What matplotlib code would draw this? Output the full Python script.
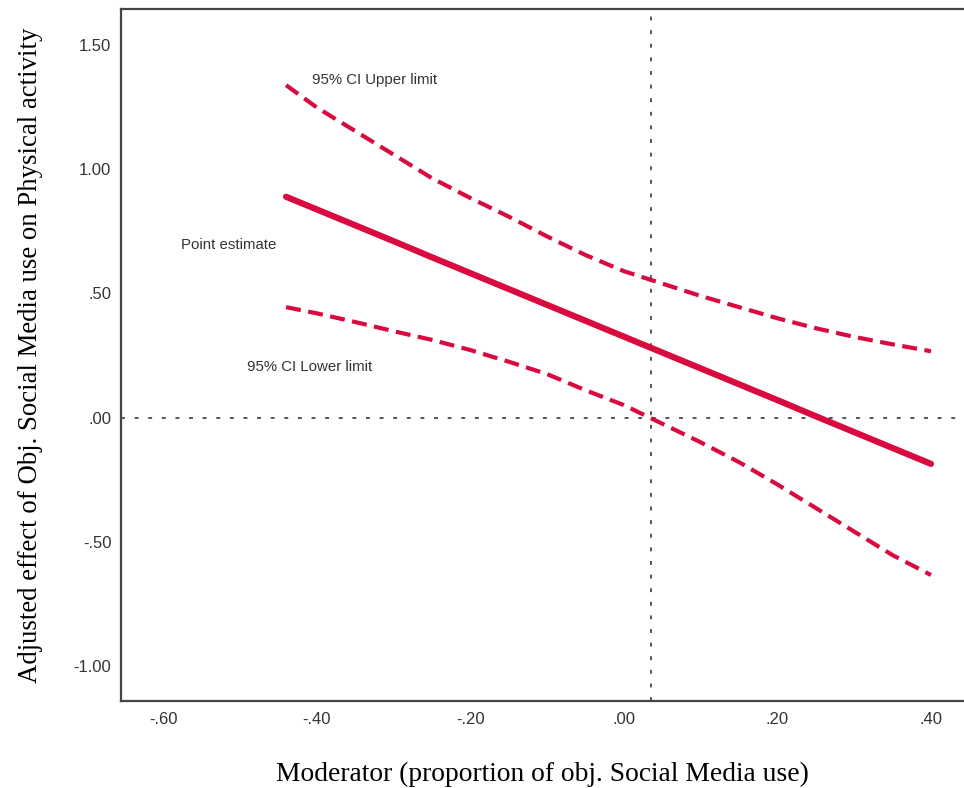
import numpy as np
import matplotlib
matplotlib.use('Agg')
import matplotlib.pyplot as plt
from matplotlib.ticker import FuncFormatter

# Moderator values and conditional effect with 95% CI
moderator = [-0.44, -0.40, -0.35, -0.30, -0.25, -0.20, -0.15, -0.10, -0.05,
             0.00, 0.05, 0.10, 0.15, 0.20, 0.25, 0.30, 0.35, 0.40]
effect = [0.89, 0.839, 0.775, 0.711, 0.646, 0.582, 0.518, 0.454, 0.390,
          0.326, 0.262, 0.198, 0.134, 0.070, 0.005, -0.059, -0.123, -0.187]
ci_upper = [1.34, 1.25, 1.155, 1.06, 0.965, 0.885, 0.81, 0.73, 0.655,
            0.59, 0.54, 0.49, 0.445, 0.40, 0.36, 0.325, 0.295, 0.267]
ci_lower = [0.445, 0.42, 0.385, 0.348, 0.313, 0.272, 0.225, 0.175, 0.11,
            0.05, -0.025, -0.10, -0.18, -0.27, -0.365, -0.46, -0.555, -0.635]
moderator_mean = 0.035

xticks = [-0.60, -0.40, -0.20, 0.00, 0.20, 0.40]
yticks = [-1.00, -0.50, 0.00, 0.50, 1.00, 1.50]

red = '#D80A40'
grey = '#555555'

fig = plt.figure(figsize=(9.64, 7.88), dpi=100)
ax = fig.add_axes([121/964, 87/788, (964-121)/964, (701-9)/788])

ax.axhline(0, color=grey, lw=1.4, ls=(0, (2, 5)), zorder=1)
ax.axvline(moderator_mean, color=grey, lw=1.4, ls=(0, (2, 5)), zorder=1)

ax.plot(moderator, ci_upper, color=red, lw=3, ls=(0, (3.6, 1.8)), zorder=3)
ax.plot(moderator, ci_lower, color=red, lw=3, ls=(0, (3.6, 1.8)), zorder=3)
ax.plot(moderator, effect, color=red, lw=4.5, solid_capstyle='round', zorder=4)

txt = dict(fontsize=10.8, color='#333333', family='Liberation Sans', va='center')
ax.text(-0.406, 1.361, '95% CI Upper limit', **txt)
ax.text(-0.577, 0.695, 'Point estimate', **txt)
ax.text(-0.491, 0.204, '95% CI Lower limit', **txt)

ax.set_xlim(-0.655, 0.443)
ax.set_ylim(-1.143, 1.647)
ax.set_xticks(xticks)
ax.set_yticks(yticks)

def spss_fmt(v, pos):
    s = f'{v:.2f}'
    return s.replace('0.', '.') if abs(v) < 1 else s

ax.xaxis.set_major_formatter(FuncFormatter(spss_fmt))
ax.yaxis.set_major_formatter(FuncFormatter(spss_fmt))
ax.tick_params(length=0, labelsize=12, labelcolor='#333333')
ax.tick_params(axis='x', pad=8)
ax.tick_params(axis='y', pad=7)
for lab in ax.get_xticklabels() + ax.get_yticklabels():
    lab.set_family('Liberation Sans')

for side in ['left', 'bottom', 'top']:
    ax.spines[side].set_color('#444444')
    ax.spines[side].set_linewidth(1.6)
ax.spines['right'].set_visible(False)

ax.set_xlabel('Moderator (proportion of obj. Social Media use)',
              fontsize=19.8, family='Liberation Serif', labelpad=25)
ax.set_ylabel('Adjusted effect of Obj. Social Media use on Physical activity',
              fontsize=19.3, family='Liberation Serif', labelpad=22)

fig.savefig('out.png', dpi=100)
